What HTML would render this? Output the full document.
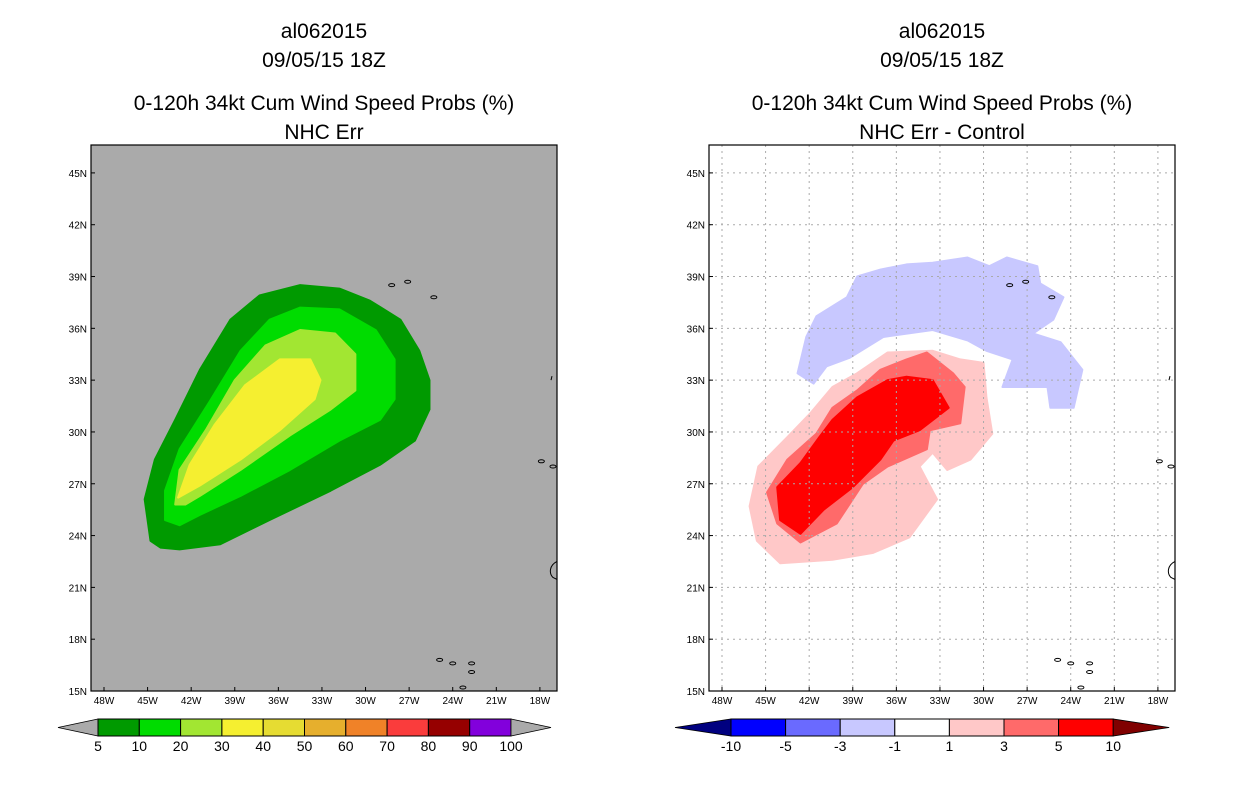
<!DOCTYPE html>
<html><head><meta charset="utf-8"><style>
html,body{margin:0;padding:0;background:#fff;}
svg{display:block;font-family:"Liberation Sans","DejaVu Sans",sans-serif;}
</style></head><body>
<svg id="c" width="1236" height="800" viewBox="0 0 1236 800"></svg>
<script>
const lonTicks=[-48,-45,-42,-39,-36,-33,-30,-27,-24,-21,-18];
const lonLabels=["48W","45W","42W","39W","36W","33W","30W","27W","24W","21W","18W"];
const latTicks=[15,18,21,24,27,30,33,36,39,42,45];
const latLabels=["15N","18N","21N","24N","27N","30N","33N","36N","39N","42N","45N"];
const leftLevels=["5","10","20","30","40","50","60","70","80","90","100"];
const leftColors=["#009a00","#00dc00","#a2e632","#f5ef30","#e6dc32","#e6af2d","#f08228","#fa3c3c","#960000","#8200dc"];
const rightLevels=["-10","-5","-3","-1","1","3","5","10"];
const rightColors=["#0000ff","#6a6aff","#c8c8ff","#ffffff","#ffc8c8","#ff6a6a","#ff0000"];
// contours (lon, lat)
const p5Lon=[-44.8,-45.2,-44.5,-43.1,-41.4,-39.3,-37.3,-34.5,-31.8,-29.7,-27.6,-26.3,-25.6,-25.6,-26.6,-29.0,-32.4,-36.6,-40.0,-42.8,-44.1];
const p5Lat=[23.7,26.1,28.4,30.7,33.6,36.5,37.9,38.5,38.3,37.6,36.5,34.7,33.0,31.3,29.5,28.1,26.6,24.9,23.5,23.2,23.3];
const p10Lon=[-43.8,-43.8,-42.8,-40.7,-38.6,-36.6,-34.5,-31.8,-29.3,-28.0,-28.0,-29.0,-31.8,-35.2,-38.6,-41.4,-42.8];
const p10Lat=[24.9,26.6,29.0,31.8,34.7,36.5,37.2,37.1,35.9,34.2,31.9,30.7,29.5,27.8,26.3,25.2,24.6];
const p20Lon=[-43.1,-42.8,-41.0,-39.0,-36.9,-34.5,-32.1,-30.7,-30.7,-32.4,-35.2,-38.6,-41.4,-42.4];
const p20Lat=[25.8,27.8,30.1,33.0,35.0,35.9,35.7,34.5,32.4,31.3,29.8,27.8,26.3,25.8];
const p30Lon=[-42.9,-42.1,-40.4,-38.3,-35.9,-33.8,-33.1,-33.5,-35.9,-38.6,-41.4];
const p30Lat=[26.2,28.1,30.4,32.7,34.2,34.2,33.0,31.9,30.1,28.4,26.9];
const d1Lon=[-46.1,-45.5,-43.5,-41.9,-40.4,-38.7,-36.6,-33.5,-31.6,-30.0,-29.8,-29.4,-30.9,-32.5,-33.5,-34.4,-33.2,-35.1,-37.6,-40.4,-44.0,-45.6];
const d1Lat=[25.7,28.0,29.7,31.1,32.6,33.4,34.6,34.7,34.2,34.0,32.0,29.9,28.4,27.8,28.8,28.0,26.1,23.9,23.0,22.6,22.4,23.7];
const d3Lon=[-44.9,-43.5,-41.5,-40.4,-38.7,-37.1,-35.3,-33.9,-32.1,-31.3,-31.6,-33.7,-33.9,-36.6,-38.3,-40.1,-42.6,-44.2];
const d3Lat=[26.5,28.4,29.9,31.4,32.4,33.6,34.2,34.6,33.4,32.6,30.5,30.1,29.0,28.0,27.0,24.7,23.6,24.7];
const d5Lon=[-44.2,-42.6,-41.3,-40.4,-38.7,-36.6,-35.3,-33.5,-32.4,-34.4,-36.2,-37.1,-39.0,-41.0,-42.6,-44.0];
const d5Lat=[26.8,28.2,29.7,30.7,32.0,33.0,33.2,33.0,31.4,30.1,29.5,28.4,26.8,25.5,24.1,24.9];
const dm1Lon=[-42.8,-42.2,-41.5,-39.4,-38.7,-37.1,-35.3,-33.5,-31.1,-29.6,-28.4,-26.3,-26.1,-24.5,-25.2,-26.6,-24.7,-23.2,-23.8,-25.4,-25.6,-28.7,-28.0,-29.8,-31.1,-33.5,-36.9,-39.2,-40.8,-41.7];
const dm1Lat=[33.4,35.5,36.7,37.8,39.0,39.4,39.7,39.8,40.1,39.6,40.1,39.6,38.6,37.8,36.5,35.7,35.2,33.6,31.4,31.4,32.6,32.6,34.2,34.7,35.3,35.9,35.5,34.3,33.8,32.8];
const islLon=[-28.2,-27.1,-25.3,-17.9,-17.1,-16.6,-24.9,-24.0,-22.7,-22.7,-23.3];
const islLat=[38.5,38.7,37.8,28.3,28.0,28.1,16.8,16.6,16.6,16.1,15.2];

const svg=document.getElementById('c');
const NS='http://www.w3.org/2000/svg';
function mk(tag,attrs,parent){const e=document.createElementNS(NS,tag);for(const k in attrs)e.setAttribute(k,attrs[k]);(parent||svg).appendChild(e);return e;}
const pxPerLon=14.53, pxPerLat=17.27, Y15=691;

function panel(ox,bg,title4,polys,grid,cb,name){
  const g=mk('g',{});
  
  
  const xL=ox, xR=ox+466, yT=145, yB=691;
  const X=lon=>ox+13+(lon+48)*pxPerLon;
  const Y=lat=>Y15-(lat-15)*pxPerLat;
  const cx=ox+233;
  const tt=[["al062015",38],["09/05/15 18Z",67],[title4[0],110],[title4[1],139]];
  tt.forEach((t,i)=>{const e=mk('text',{x:cx,y:t[1],'text-anchor':'middle','font-size':'21',fill:'#000'},g);e.textContent=t[0];
    });
  const bgR=mk('rect',{x:xL,y:yT,width:466,height:546,fill:bg},g);
  
  const clip=mk('clipPath',{id:'clip'+ox},g);mk('rect',{x:xL,y:yT,width:466,height:546},clip);
  const pg=mk('g',{'clip-path':'url(#clip'+ox+')'},g);
  polys.forEach(p=>{const pts=p[0].map((lo,i)=>X(lo)+','+Y(p[1][i])).join(' ');
    const e=mk('polygon',{points:pts,fill:p[2],'stroke':p[2],'stroke-width':2,'stroke-linejoin':'round'},pg);
    });
  if(grid){
    lonTicks.forEach(lo=>{const e=mk('line',{x1:X(lo),x2:X(lo),y1:yT,y2:yB,stroke:'#aaa','stroke-dasharray':'2,4'},pg);});
    latTicks.forEach(la=>{const e=mk('line',{x1:xL,x2:xR,y1:Y(la),y2:Y(la),stroke:'#aaa','stroke-dasharray':'2,4'},pg);});
  }
  islLon.forEach((lo,i)=>{const e=mk('ellipse',{cx:X(lo),cy:Y(islLat[i]),rx:3,ry:1.5,fill:'none',stroke:'#000','stroke-width':1},pg);
    });
  const coast=mk('path',{d:`M${xR-6},${Y(33)} l1,-4 M${xR},${Y(22.5)} c-8,4 -8,12 -4,16 l4,2`,fill:'none',stroke:'#000'},pg);
  
  const fr=mk('rect',{x:xL,y:yT,width:466,height:546,fill:'none',stroke:'#000','stroke-width':1.2},g);
  
  lonTicks.forEach((lo,i)=>{mk('line',{x1:X(lo),x2:X(lo),y1:yB,y2:yB-4,stroke:'#000'},g);
    const e=mk('text',{x:X(lo),y:yB+13,'text-anchor':'middle','font-size':'10'},g);e.textContent=lonLabels[i];
    });
  latTicks.forEach((la,i)=>{mk('line',{x1:xL,x2:xL+4,y1:Y(la),y2:Y(la),stroke:'#000'},g);
    const e=mk('text',{x:xL-4,y:Y(la)+4,'text-anchor':'end','font-size':'10'},g);e.textContent=latLabels[i];
    });
  // colorbar
  const cg=mk('g',{},g);
  const y0=719,h=17,n=cb.colors.length,bx0=cb.x0,bw=cb.w;
  const t1=mk('polygon',{points:`${bx0-cb.tri},${y0+h/2} ${bx0},${y0} ${bx0},${y0+h}`,fill:cb.lo,stroke:'#000','stroke-width':0.8},cg);
  
  cb.colors.forEach((c,i)=>{const e=mk('rect',{x:bx0+i*bw,y:y0,width:bw,height:h,fill:c,stroke:'#000','stroke-width':1},cg);
    });
  const xe=bx0+n*bw;
  const t2=mk('polygon',{points:`${xe+cb.tri},${y0+h/2} ${xe},${y0} ${xe},${y0+h}`,fill:cb.hi,stroke:'#000','stroke-width':0.8},cg);
  
  cb.labels.forEach((l,i)=>{const e=mk('text',{x:bx0+(i+cb.lOff)*bw,y:y0+h+15,'text-anchor':'middle','font-size':'14'},cg);e.textContent=l;
    });
}
panel(91,'#aaaaaa',["0-120h 34kt Cum Wind Speed Probs (%)","NHC Err"],
 [[p5Lon,p5Lat,leftColors[0],'contour-5pct'],[p10Lon,p10Lat,leftColors[1],'contour-10pct'],[p20Lon,p20Lat,leftColors[2],'contour-20pct'],[p30Lon,p30Lat,leftColors[3],'contour-30pct']],
 false,{x0:98,w:41.3,tri:40,colors:leftColors,labels:leftLevels,lOff:0,lo:'#aaaaaa',hi:'#aaaaaa'},'left-panel');
panel(709,'#ffffff',["0-120h 34kt Cum Wind Speed Probs (%)","NHC Err - Control"],
 [[dm1Lon,dm1Lat,rightColors[2],'contour-minus1'],[d1Lon,d1Lat,rightColors[4],'contour-plus1'],[d3Lon,d3Lat,rightColors[5],'contour-plus3'],[d5Lon,d5Lat,rightColors[6],'contour-plus5']],
 true,{x0:731,w:54.6,tri:56,colors:rightColors,labels:rightLevels,lOff:0,lo:'#000080',hi:'#800000'},'right-panel');
</script>
</body></html>
